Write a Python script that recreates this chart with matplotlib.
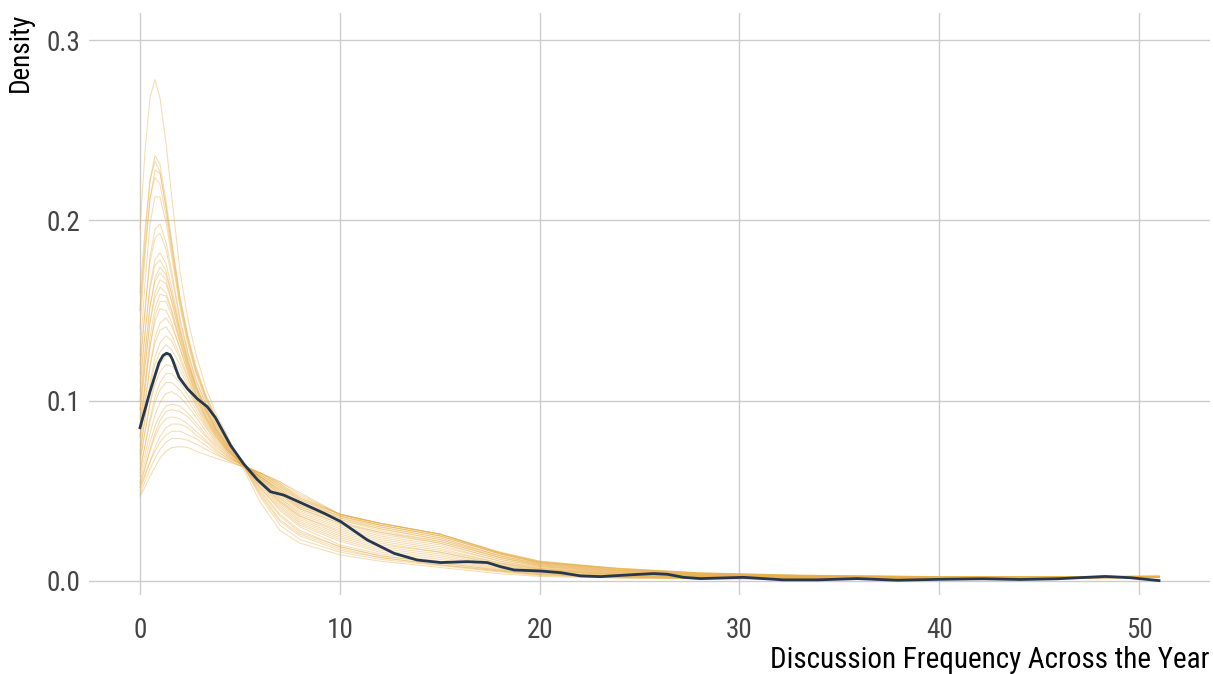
import matplotlib
matplotlib.use("Agg")
import matplotlib.pyplot as plt

x_grid = [0, 0.25, 0.5, 0.75, 1.0, 1.3, 1.6, 2.0, 2.4, 2.8, 3.3, 3.8, 4.4, 5, 6, 7, 8,
          10, 12, 15, 18, 20, 24, 28, 33, 40, 46, 51]

# replicated densities (yellow lines)
yrep = [
    [0.195, 0.238, 0.268, 0.278, 0.268, 0.243, 0.212, 0.172, 0.145, 0.126, 0.107, 0.093, 0.080, 0.066, 0.044, 0.028, 0.021, 0.0145, 0.011, 0.0075, 0.004, 0.0025, 0.0015, 0.0012, 0.001, 0.001, 0.0015, 0.002],
    [0.150, 0.190, 0.222, 0.236, 0.231, 0.211, 0.188, 0.158, 0.136, 0.119, 0.103, 0.091, 0.079, 0.067, 0.047, 0.031, 0.023, 0.016, 0.012, 0.0085, 0.005, 0.003, 0.0018, 0.0013, 0.001, 0.0012, 0.0016, 0.0021],
    [0.160, 0.195, 0.222, 0.233, 0.227, 0.207, 0.184, 0.155, 0.134, 0.117, 0.102, 0.090, 0.079, 0.067, 0.048, 0.033, 0.025, 0.017, 0.013, 0.009, 0.0055, 0.0035, 0.002, 0.0015, 0.0012, 0.0012, 0.0016, 0.002],
    [0.140, 0.180, 0.212, 0.228, 0.226, 0.208, 0.186, 0.157, 0.135, 0.118, 0.102, 0.090, 0.078, 0.067, 0.049, 0.034, 0.026, 0.018, 0.013, 0.009, 0.0055, 0.0035, 0.002, 0.0015, 0.0012, 0.0012, 0.0016, 0.0022],
    [0.150, 0.185, 0.212, 0.224, 0.220, 0.203, 0.182, 0.154, 0.133, 0.116, 0.101, 0.089, 0.078, 0.067, 0.050, 0.036, 0.027, 0.019, 0.014, 0.010, 0.006, 0.004, 0.0022, 0.0016, 0.0012, 0.0012, 0.0016, 0.002],
    [0.125, 0.165, 0.198, 0.213, 0.213, 0.199, 0.179, 0.152, 0.131, 0.115, 0.100, 0.088, 0.077, 0.067, 0.051, 0.037, 0.028, 0.019, 0.014, 0.010, 0.006, 0.004, 0.0023, 0.0017, 0.0013, 0.0012, 0.0016, 0.0021],
    [0.115, 0.150, 0.180, 0.195, 0.198, 0.188, 0.171, 0.146, 0.127, 0.112, 0.098, 0.087, 0.077, 0.067, 0.052, 0.039, 0.030, 0.020, 0.015, 0.011, 0.0065, 0.0045, 0.0025, 0.0018, 0.0014, 0.0013, 0.0017, 0.0022],
    [0.120, 0.150, 0.177, 0.190, 0.193, 0.184, 0.168, 0.144, 0.126, 0.111, 0.098, 0.087, 0.076, 0.067, 0.052, 0.040, 0.031, 0.022, 0.016, 0.012, 0.007, 0.0045, 0.0026, 0.0019, 0.0014, 0.0013, 0.0016, 0.002],
    [0.105, 0.137, 0.164, 0.178, 0.182, 0.176, 0.162, 0.141, 0.124, 0.109, 0.096, 0.086, 0.076, 0.067, 0.053, 0.041, 0.032, 0.023, 0.017, 0.013, 0.0075, 0.005, 0.0028, 0.002, 0.0015, 0.0014, 0.0016, 0.0022],
    [0.110, 0.138, 0.162, 0.175, 0.178, 0.172, 0.159, 0.139, 0.122, 0.108, 0.096, 0.085, 0.075, 0.067, 0.054, 0.042, 0.033, 0.024, 0.018, 0.014, 0.008, 0.0055, 0.003, 0.0021, 0.0015, 0.0014, 0.0015, 0.002],
    [0.095, 0.125, 0.152, 0.168, 0.174, 0.170, 0.158, 0.139, 0.122, 0.108, 0.095, 0.085, 0.075, 0.067, 0.054, 0.043, 0.034, 0.025, 0.019, 0.015, 0.0085, 0.006, 0.0032, 0.0022, 0.0016, 0.0015, 0.0017, 0.0022],
    [0.100, 0.128, 0.152, 0.166, 0.171, 0.167, 0.155, 0.137, 0.121, 0.107, 0.095, 0.084, 0.075, 0.067, 0.055, 0.044, 0.035, 0.026, 0.020, 0.016, 0.009, 0.006, 0.0033, 0.0023, 0.0017, 0.0015, 0.0016, 0.002],
    [0.090, 0.118, 0.144, 0.160, 0.167, 0.165, 0.154, 0.136, 0.120, 0.107, 0.094, 0.084, 0.074, 0.066, 0.055, 0.044, 0.036, 0.027, 0.021, 0.016, 0.0095, 0.0065, 0.0035, 0.0024, 0.0017, 0.0015, 0.0017, 0.0022],
    [0.095, 0.120, 0.143, 0.157, 0.163, 0.160, 0.150, 0.134, 0.119, 0.106, 0.094, 0.084, 0.074, 0.066, 0.055, 0.045, 0.036, 0.028, 0.022, 0.017, 0.010, 0.0065, 0.0036, 0.0025, 0.0018, 0.0016, 0.0017, 0.002],
    [0.085, 0.110, 0.135, 0.151, 0.159, 0.158, 0.149, 0.133, 0.118, 0.105, 0.093, 0.083, 0.074, 0.066, 0.056, 0.046, 0.037, 0.029, 0.023, 0.018, 0.010, 0.007, 0.0038, 0.0026, 0.0019, 0.0016, 0.0018, 0.0023],
    [0.080, 0.105, 0.130, 0.147, 0.155, 0.155, 0.147, 0.132, 0.117, 0.104, 0.092, 0.083, 0.073, 0.066, 0.056, 0.046, 0.038, 0.030, 0.024, 0.019, 0.011, 0.007, 0.004, 0.0027, 0.0019, 0.0016, 0.0017, 0.0022],
    [0.085, 0.108, 0.130, 0.144, 0.151, 0.150, 0.143, 0.129, 0.115, 0.103, 0.091, 0.082, 0.073, 0.066, 0.056, 0.047, 0.039, 0.031, 0.025, 0.020, 0.011, 0.0075, 0.0042, 0.0028, 0.002, 0.0017, 0.0017, 0.002],
    [0.075, 0.097, 0.119, 0.135, 0.143, 0.146, 0.141, 0.129, 0.116, 0.103, 0.091, 0.082, 0.073, 0.066, 0.057, 0.048, 0.040, 0.032, 0.026, 0.021, 0.012, 0.008, 0.0044, 0.003, 0.0021, 0.0017, 0.0018, 0.0023],
    [0.080, 0.100, 0.119, 0.132, 0.139, 0.141, 0.136, 0.125, 0.113, 0.101, 0.090, 0.081, 0.072, 0.066, 0.057, 0.048, 0.040, 0.032, 0.027, 0.021, 0.012, 0.008, 0.0046, 0.0031, 0.0022, 0.0018, 0.0018, 0.0022],
    [0.070, 0.090, 0.110, 0.124, 0.132, 0.136, 0.133, 0.123, 0.112, 0.101, 0.090, 0.081, 0.072, 0.066, 0.057, 0.049, 0.041, 0.033, 0.027, 0.022, 0.013, 0.0085, 0.0048, 0.0032, 0.0023, 0.0018, 0.0019, 0.0024],
    [0.072, 0.090, 0.108, 0.120, 0.127, 0.131, 0.128, 0.120, 0.110, 0.099, 0.089, 0.080, 0.072, 0.066, 0.058, 0.049, 0.041, 0.034, 0.028, 0.022, 0.013, 0.0085, 0.005, 0.0033, 0.0024, 0.0019, 0.0019, 0.0022],
    [0.065, 0.082, 0.099, 0.112, 0.120, 0.125, 0.124, 0.117, 0.108, 0.098, 0.088, 0.080, 0.072, 0.066, 0.058, 0.050, 0.042, 0.034, 0.029, 0.023, 0.013, 0.009, 0.0052, 0.0034, 0.0025, 0.0019, 0.002, 0.0025],
    [0.068, 0.083, 0.098, 0.109, 0.116, 0.120, 0.119, 0.114, 0.106, 0.097, 0.087, 0.079, 0.071, 0.066, 0.058, 0.050, 0.042, 0.035, 0.029, 0.023, 0.014, 0.009, 0.0054, 0.0035, 0.0025, 0.002, 0.002, 0.0023],
    [0.060, 0.075, 0.090, 0.102, 0.110, 0.115, 0.115, 0.110, 0.103, 0.095, 0.086, 0.078, 0.071, 0.065, 0.058, 0.051, 0.043, 0.035, 0.030, 0.024, 0.014, 0.0095, 0.0056, 0.0036, 0.0026, 0.002, 0.002, 0.0025],
    [0.062, 0.075, 0.088, 0.099, 0.106, 0.110, 0.110, 0.106, 0.100, 0.093, 0.085, 0.077, 0.070, 0.065, 0.058, 0.051, 0.043, 0.036, 0.030, 0.024, 0.014, 0.0095, 0.0058, 0.0037, 0.0027, 0.0021, 0.002, 0.0023],
    [0.058, 0.070, 0.082, 0.092, 0.099, 0.104, 0.105, 0.102, 0.097, 0.091, 0.083, 0.076, 0.070, 0.065, 0.059, 0.052, 0.044, 0.036, 0.031, 0.025, 0.015, 0.010, 0.006, 0.0038, 0.0028, 0.0021, 0.0021, 0.0026],
    [0.055, 0.066, 0.077, 0.086, 0.092, 0.097, 0.098, 0.097, 0.093, 0.088, 0.081, 0.075, 0.069, 0.065, 0.059, 0.052, 0.045, 0.036, 0.031, 0.025, 0.015, 0.010, 0.006, 0.004, 0.0028, 0.0022, 0.0021, 0.0024],
    [0.052, 0.062, 0.073, 0.082, 0.089, 0.094, 0.095, 0.094, 0.091, 0.086, 0.080, 0.074, 0.069, 0.065, 0.059, 0.053, 0.045, 0.037, 0.032, 0.026, 0.0155, 0.0105, 0.0063, 0.0041, 0.0029, 0.0022, 0.0022, 0.0026],
    [0.054, 0.063, 0.072, 0.080, 0.086, 0.090, 0.091, 0.090, 0.087, 0.083, 0.078, 0.073, 0.068, 0.065, 0.060, 0.053, 0.046, 0.037, 0.032, 0.026, 0.0155, 0.0105, 0.0065, 0.0042, 0.003, 0.0022, 0.0022, 0.0024],
    [0.050, 0.058, 0.066, 0.074, 0.080, 0.085, 0.087, 0.087, 0.085, 0.081, 0.077, 0.072, 0.068, 0.065, 0.060, 0.054, 0.046, 0.037, 0.032, 0.026, 0.016, 0.011, 0.0067, 0.0043, 0.003, 0.0023, 0.0023, 0.0027],
    [0.052, 0.059, 0.066, 0.072, 0.077, 0.081, 0.083, 0.083, 0.081, 0.079, 0.075, 0.071, 0.067, 0.064, 0.060, 0.054, 0.047, 0.037, 0.032, 0.026, 0.016, 0.011, 0.0068, 0.0044, 0.0031, 0.0023, 0.0023, 0.0025],
    [0.048, 0.055, 0.062, 0.068, 0.073, 0.077, 0.079, 0.079, 0.078, 0.076, 0.073, 0.070, 0.067, 0.064, 0.060, 0.055, 0.048, 0.037, 0.032, 0.026, 0.0155, 0.0105, 0.007, 0.0045, 0.0032, 0.0024, 0.0024, 0.0028],
    [0.047, 0.052, 0.058, 0.063, 0.068, 0.072, 0.074, 0.0745, 0.074, 0.072, 0.070, 0.068, 0.066, 0.064, 0.060, 0.055, 0.049, 0.037, 0.031, 0.025, 0.015, 0.010, 0.007, 0.0045, 0.0032, 0.0024, 0.0024, 0.0026],
]

# observed density (dark line)
y_x = [0, 0.5, 0.95, 1.15, 1.33, 1.5, 1.62, 1.95, 2.37, 2.87, 3.37, 3.78, 4.53, 5.2, 5.87, 6.53, 7.2,
       8.05, 9.22, 10.05, 11.38, 12.72, 13.88, 15.05, 16.38, 17.38, 18.05, 18.72, 20.05,
       21.05, 22.05, 23.05, 24.38, 25.7, 26.4, 27.2, 28.05, 30.2, 32.2, 33.9, 35.9, 37.9,
       40.05, 42.2, 44.05, 45.9, 47.2, 48.3, 49.55, 51]
y_dens = [0.085, 0.105, 0.121, 0.125, 0.1263, 0.1255, 0.1229, 0.113, 0.1067, 0.101, 0.0966, 0.0905, 0.0752,
          0.0648, 0.0562, 0.0495, 0.0476, 0.0434, 0.0375, 0.0329, 0.0227, 0.0153, 0.0116,
          0.0102, 0.0107, 0.0102, 0.0079, 0.0061, 0.0055, 0.0046, 0.0028, 0.0024, 0.0033,
          0.0041, 0.0037, 0.002, 0.0013, 0.002, 0.0006, 0.0006, 0.0013, 0.0004, 0.0009,
          0.0012, 0.0008, 0.0012, 0.0019, 0.0025, 0.0018, 0.0002]

plt.rcParams['font.family'] = ['Roboto Condensed', 'Liberation Sans Narrow', 'Roboto', 'DejaVu Sans']

fig = plt.figure(figsize=(12.13, 6.74), dpi=100)
ax = fig.add_axes([0.0734, 0.1172, 0.9241, 0.8635])

for rep in yrep:
    ax.plot(x_grid, rep, color="#E9AE48", alpha=0.42, lw=0.75, solid_joinstyle="round")
ax.plot(y_x, y_dens, color="#263850", lw=2.0, solid_joinstyle="round", zorder=5)

ax.set_xlim(-2.55, 53.55)
ax.set_ylim(-0.0078, 0.315)
ax.set_xticks([0, 10, 20, 30, 40, 50])
ax.set_yticks([0.0, 0.1, 0.2, 0.3])
ax.set_yticklabels(["0.0", "0.1", "0.2", "0.3"])
ax.grid(True, color="#cccccc", lw=1.0)
ax.set_axisbelow(True)
for s in ax.spines.values():
    s.set_visible(False)
ax.tick_params(length=0, labelsize=19.5, labelcolor="#444444")
ax.tick_params(axis="x", pad=16)
ax.tick_params(axis="y", pad=6)
ax.set_xlabel("Discussion Frequency Across the Year", fontsize=21, loc="right", labelpad=1)
ax.set_ylabel("Density", fontsize=19.5, loc="top", labelpad=9)

fig.savefig("out.png", dpi=100)
